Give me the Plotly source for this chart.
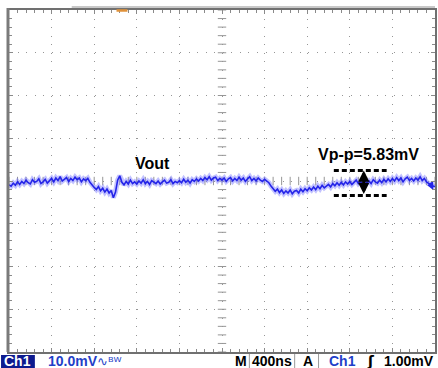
import numpy as np
import plotly.graph_objects as go

# ---- captured waveform: channel 1, 400 ns/div, 10 mV/div (AC ripple on Vout) ----
time_ns = list(range(0, 4001, 20))
vout_mv = [
    -0.9, -1.2, -0.5, -1.0, -0.2, -0.8, -0.1, -0.6, 0.2, -0.4,
    -0.7, 0.3, -0.3, -0.1, 0.5, -0.6, -0.2, 0.4, -0.5, 0.0,
    0.6, -0.2, 0.7, 0.1, 1.0, 0.0, 0.5, 0.8, -0.1, 0.6,
    0.1, 0.9, 0.3, 0.7, -0.2, 0.5, 0.1, 0.6, -0.3, -1.0,
    -1.5, -2.0, -1.3, -2.3, -1.7, -2.6, -1.9, -2.8, -2.2, -3.9,
    -2.6, 0.2, 1.2, -0.3, -0.9, -0.1, -0.7, 0.2, -0.6, -0.2,
    -0.7, 0.0, -0.5, 0.3, -0.6, -0.1, -0.8, 0.1, -0.3, -0.6,
    0.0, -0.7, -0.2, 0.2, -0.5, -0.3, 0.3, -0.6, -0.1, -0.4,
    0.1, -0.4, 0.4, -0.3, 0.2, -0.5, 0.3, -0.1, 0.5, 0.0,
    0.6, 0.1, 0.8, 0.3, 1.0, 0.2, 0.7, 0.9, 0.1, 0.6,
    0.2, 0.7, -0.1, 0.5, 0.8, 0.0, 0.6, 0.1, 0.9, 0.2,
    0.7, -0.1, 0.5, 1.0, 0.1, 0.6, 0.0, 0.7, 0.2, -0.1,
    0.4, 0.0, -0.4, -1.2, -1.8, -2.4, -1.9, -2.7, -2.1, -2.9,
    -2.3, -2.8, -2.1, -3.0, -2.4, -2.2, -2.8, -1.9, -2.5, -1.8,
    -2.3, -1.6, -2.1, -1.4, -2.0, -1.2, -1.8, -1.0, -1.6, -1.1,
    -0.8, -1.4, -0.6, -1.1, -0.4, -1.0, -0.3, -0.9, -0.2, -0.7,
    -0.1, -0.8, -0.3, 0.2, -0.6, -0.1, -0.7, 0.1, -0.5, 0.0,
    -0.6, 0.3, -0.2, -0.5, 0.2, -0.4, 0.4, -0.2, 0.5, -0.1,
    0.6, 0.0, 0.8, 0.1, 0.7, -0.2, 0.5, 0.9, 0.1, 0.6,
    0.0, 0.7, 0.2, 1.0, 0.1, 0.6, -0.2, -0.6, -1.0, -1.2, -1.3,
]

# peak-to-peak measurement cursors
vpp_mv = 5.83
vpp_top_mv = 2.45
vpp_bottom_mv = vpp_top_mv - vpp_mv
vpp_cursor_t = [3050, 3546]
vpp_arrow_t = 3331

# screen settings
time_div_ns = 400
volt_div_mv = 10
n_xdiv, n_ydiv = 10, 8
x_range = [0, time_div_ns * n_xdiv]
y_range = [-volt_div_mv * n_ydiv / 2, volt_div_mv * n_ydiv / 2]

# status line texts
ch_label = "Ch1"
scale_label = "10.0mV"
bw_label = "∿ᴮᵂ"
time_label = "400ns"
trig_level_label = "1.00mV"

W, H = 438, 368
L, R, T, B = 9, 437, 10, 352


def px(x):
    return (x - L) / (R - L)


def py(y):
    return (B - y) / (B - T)


BLUE = "#2424e8"
GRID = "#969696"

fig = go.Figure()

# centre cross-hair ticks (one per minor division)
cx = np.arange(x_range[0], x_range[1] + 1, time_div_ns / 5)
cy = np.arange(y_range[0], y_range[1] + 1, volt_div_mv / 5)
fig.add_trace(go.Scatter(
    x=cx, y=np.zeros_like(cx), mode="markers", hoverinfo="skip",
    marker=dict(symbol="line-ns", size=6, line=dict(width=1, color=GRID)),
))
fig.add_trace(go.Scatter(
    x=np.full_like(cy, (x_range[0] + x_range[1]) / 2), y=cy, mode="markers",
    hoverinfo="skip",
    marker=dict(symbol="line-ew", size=6, line=dict(width=1, color=GRID)),
))

# waveform: soft phosphor glow under a sharp trace
fig.add_trace(go.Scatter(
    x=time_ns, y=vout_mv, mode="lines", hoverinfo="skip",
    line=dict(color="rgba(120,120,255,0.45)", width=5),
))
fig.add_trace(go.Scatter(
    x=time_ns, y=vout_mv, mode="lines",
    line=dict(color=BLUE, width=1.6),
))
# channel marker at the right edge
fig.add_trace(go.Scatter(
    x=[3965], y=[-1.0], mode="markers", hoverinfo="skip",
    marker=dict(symbol="triangle-left", size=8, color=BLUE),
))

axis_common = dict(
    showgrid=True, gridcolor=GRID, gridwidth=1, griddash="1px,7.55px",
    zeroline=False, showline=True, linecolor="#707070", linewidth=2,
    mirror="allticks", ticks="inside", ticklen=4, tickcolor="#8a8a8a",
    showticklabels=False, fixedrange=True,
)
fig.update_xaxes(range=x_range, dtick=time_div_ns, tick0=0,
                 minor=dict(dtick=time_div_ns / 5, ticks="inside", ticklen=3,
                            tickcolor="#8a8a8a", showgrid=False),
                 **axis_common)
fig.update_yaxes(range=y_range, dtick=volt_div_mv, tick0=0,
                 minor=dict(dtick=volt_div_mv / 5, ticks="inside", ticklen=3,
                            tickcolor="#8a8a8a", showgrid=False),
                 **axis_common)

shapes = [
    # thicker left bezel edge
    dict(type="line", xref="paper", yref="paper", x0=px(8), x1=px(8),
         y0=py(B), y1=py(8), line=dict(color="#7a7a7a", width=3)),
    # record-view bar and trigger position marker
    dict(type="line", xref="paper", yref="paper", x0=px(72), x1=px(437),
         y0=py(7), y1=py(7), line=dict(color="#c8c8c8", width=2)),
    dict(type="line", xref="paper", yref="paper", x0=px(117), x1=px(128),
         y0=py(10.5), y1=py(10.5), line=dict(color="#e0923a", width=2.5)),
    # Vp-p cursors
    dict(type="line", xref="x", yref="y", x0=vpp_cursor_t[0], x1=vpp_cursor_t[1],
         y0=vpp_top_mv, y1=vpp_top_mv, line=dict(color="black", width=3, dash="5px,3px")),
    dict(type="line", xref="x", yref="y", x0=vpp_cursor_t[0], x1=vpp_cursor_t[1],
         y0=vpp_bottom_mv, y1=vpp_bottom_mv, line=dict(color="black", width=3, dash="5px,3px")),
    # status line: channel badge and field separators
    dict(type="rect", xref="paper", yref="paper", x0=px(1), x1=px(35),
         y0=py(368), y1=py(355), fillcolor="#0d1a8f", line=dict(width=0)),
    dict(type="line", xref="paper", yref="paper", x0=px(250.5), x1=px(250.5),
         y0=py(368), y1=py(354), line=dict(color="#9a9a9a", width=1)),
    dict(type="line", xref="paper", yref="paper", x0=px(296), x1=px(296),
         y0=py(368), y1=py(354), line=dict(color="#9a9a9a", width=1)),
    dict(type="line", xref="paper", yref="paper", x0=px(320), x1=px(320),
         y0=py(368), y1=py(354), line=dict(color="#9a9a9a", width=1)),
]

FONT = "Liberation Sans"
sy = py(361.5)


def status(text, xc, color="black", size=14, family=FONT, bold=True):
    return dict(text=f"<b>{text}</b>" if bold else text, xref="paper", yref="paper",
                x=px(xc), y=sy, xanchor="center", yanchor="middle", showarrow=False,
                font=dict(family=family, size=size, color=color))


annotations = [
    dict(text="<b>Vout</b>", x=1345, y=4.2, xref="x", yref="y", showarrow=False,
         xanchor="center", yanchor="middle",
         font=dict(family=FONT, size=16, color="black")),
    dict(text=f"<b>Vp-p={vpp_mv:.2f}mV</b>", x=3374, y=6.1, xref="x", yref="y",
         showarrow=False, xanchor="center", yanchor="middle",
         font=dict(family=FONT, size=16, color="black")),
    # double-headed arrow spanning the peak-to-peak cursors
    dict(text="", x=vpp_arrow_t, y=vpp_top_mv, ax=vpp_arrow_t, ay=vpp_bottom_mv,
         xref="x", yref="y", axref="x", ayref="y", showarrow=True,
         arrowhead=2, arrowside="end+start", arrowwidth=3, arrowsize=0.75,
         arrowcolor="black", standoff=0, startstandoff=0),
    status(ch_label, 18, color="white"),
    status(scale_label, 73, color="#1f3fc8"),
    status(bw_label, 110, color="#1f3fc8", size=13, family="DejaVu Sans", bold=False),
    status("M", 242),
    status(time_label, 273),
    status("A", 309),
    status(ch_label, 344, color="#1f3fc8"),
    status("ʃ", 373, family="DejaVu Sans"),
    status(trig_level_label, 411),
]

fig.update_layout(
    width=W, height=H,
    margin=dict(l=L, r=W - R, t=T, b=H - B),
    paper_bgcolor="white", plot_bgcolor="white",
    showlegend=False, shapes=shapes, annotations=annotations,
)

fig.write_html("out.html", config={"displayModeBar": False})
